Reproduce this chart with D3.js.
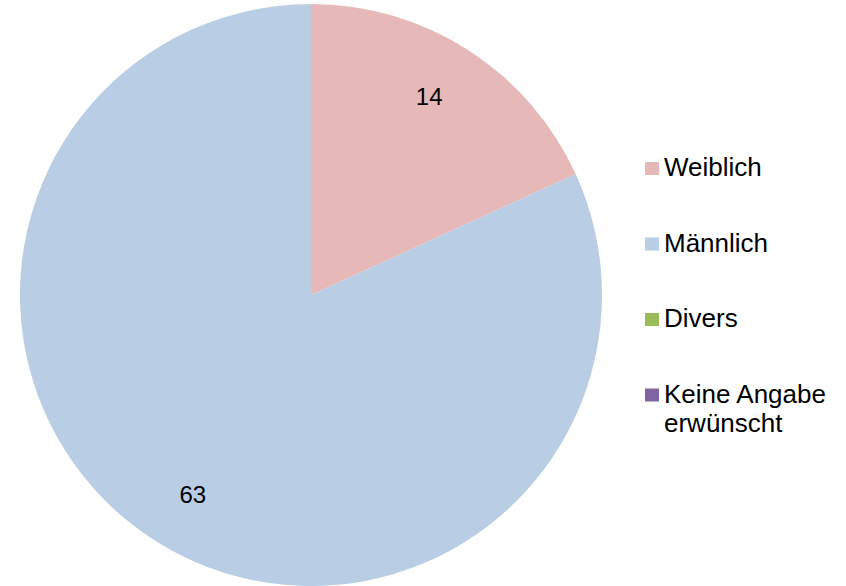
<!DOCTYPE html>
<html>
<head>
<meta charset="utf-8">
<script src="https://cdn.jsdelivr.net/npm/d3@7"></script>
<style>
	body { margin: 0; background: #ffffff; }
	text { font-family: "Liberation Sans", Arial, sans-serif; fill: #000; }
</style>
</head>
<body>
<div class="chart"></div>
<script>
const categories = ["Weiblich", "Männlich", "Divers", "Keine Angabe erwünscht"];
const counts = [14, 63, 0, 0];
const colors = ["#e6b9b8", "#b9cde5", "#9bbb59", "#8064a2"];

const width = 846, height = 586;
const cx = 311, cy = 295, radius = 291;

const svg = d3.select("div.chart").append("svg")
	.attr("width", width)
	.attr("height", height);

const data = categories.map((c, i) => ({ name: c, value: counts[i], color: colors[i] }));

const pie = d3.pie().sort(null).value(d => d.value);
const arc = d3.arc().innerRadius(0).outerRadius(radius);
const labelArc = d3.arc().innerRadius(radius * 0.795).outerRadius(radius * 0.795);
const labelShift = -0.035; // labels sit a little counter-clockwise of the slice middle

const g = svg.append("g").attr("transform", `translate(${cx},${cy})`);
const arcs = pie(data).filter(d => d.data.value > 0);

g.selectAll("path.slice")
	.data(arcs)
	.join("path")
	  .attr("class", "slice")
	  .attr("d", arc)
	  .attr("fill", d => d.data.color);

g.selectAll("text.lbl")
	.data(arcs)
	.join("text")
	  .attr("class", "lbl")
	  .attr("transform", d => {
			let c = labelArc.centroid({startAngle: d.startAngle + labelShift, endAngle: d.endAngle + labelShift});
			return `translate(${c})`;
	  })
	  .attr("text-anchor", "middle")
	  .attr("dy", "0.36em")
	  .style("font-size", "24px")
	  .text(d => d.data.value);

// legend
const legend = svg.append("g").attr("transform", "translate(645,176)");
const item = legend.selectAll("g")
	.data(data)
	.join("g")
	  .attr("transform", (d, i) => `translate(0,${i * 75.5})`);

item.append("rect")
	.attr("x", 0).attr("y", -14)
	.attr("width", 14).attr("height", 13)
	.attr("fill", d => d.color);

item.append("text")
	.attr("x", 19)
	.style("font-size", "26px")
	.each(function(d) {
		const words = d.name === "Keine Angabe erwünscht" ? ["Keine Angabe", "erwünscht"] : [d.name];
		d3.select(this).selectAll("tspan")
			.data(words)
			.join("tspan")
			  .attr("x", 19)
			  .attr("dy", (w, j) => j === 0 ? 0 : 29)
			  .text(w => w);
	});
</script>
</body>
</html>
